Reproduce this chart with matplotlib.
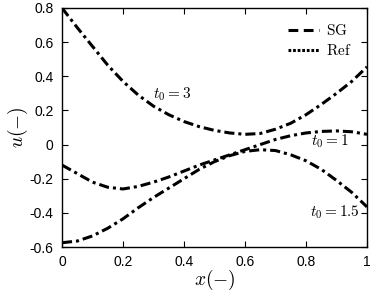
import matplotlib
matplotlib.use('Agg')
import matplotlib.pyplot as plt
from matplotlib.lines import Line2D

plt.rcParams['font.family'] = ['Liberation Sans', 'DejaVu Sans']
plt.rcParams['mathtext.fontset'] = 'cm'

x = [0, 0.05, 0.1, 0.15, 0.2, 0.25, 0.3, 0.35, 0.4, 0.45, 0.5,
     0.55, 0.6, 0.65, 0.7, 0.75, 0.8, 0.85, 0.9, 0.95, 1.0]

u_t3 = [0.80, 0.685, 0.575, 0.465, 0.37, 0.29, 0.225, 0.175, 0.135, 0.105, 0.083,
        0.068, 0.06, 0.065, 0.09, 0.125, 0.175, 0.235, 0.30, 0.37, 0.455]
u_t1 = [-0.12, -0.17, -0.22, -0.25, -0.26, -0.245, -0.22, -0.19, -0.155, -0.12, -0.09,
        -0.06, -0.03, 0.0, 0.03, 0.052, 0.068, 0.077, 0.08, 0.075, 0.06]
u_t15 = [-0.575, -0.565, -0.535, -0.49, -0.435, -0.37, -0.31, -0.255, -0.20, -0.145, -0.10,
         -0.065, -0.04, -0.03, -0.035, -0.06, -0.095, -0.145, -0.21, -0.28, -0.365]

curves = [u_t3, u_t1, u_t15]
labels = [r'$t_0=3$', r'$t_0=1$', r'$t_0=1.5$']

xticks = [0, 0.2, 0.4, 0.6, 0.8, 1]
xticklabels = ['0', '0.2', '0.4', '0.6', '0.8', '1']
yticks = [-0.6, -0.4, -0.2, 0, 0.2, 0.4, 0.6, 0.8]
yticklabels = ['-0.6', '-0.4', '-0.2', '0', '0.2', '0.4', '0.6', '0.8']

fig = plt.figure(figsize=(3.74, 2.96), dpi=100)
ax = fig.add_axes([0.1658, 0.1655, 0.8155, 0.8075])

lw = 2.2
for u in curves:
    # SG: dashes, Ref: dots falling into the dash gaps
    ax.plot(x, u, color='black', lw=lw, linestyle=(0, (3.3, 3.6)), dash_capstyle='butt')
    ax.plot(x, u, color='black', lw=lw, linestyle=(2.3, (1.0, 5.9)), dash_capstyle='butt')

ax.text(0.298, 0.296, labels[0], fontsize=11, ha='left', va='center')
ax.text(0.94, 0.02, labels[1], fontsize=11, ha='right', va='center')
ax.text(0.977, -0.395, labels[2], fontsize=11, ha='right', va='center')

ax.set_xlim(0, 1)
ax.set_ylim(-0.6, 0.8)
ax.set_xticks(xticks)
ax.set_xticklabels(xticklabels)
ax.set_yticks(yticks)
ax.set_yticklabels(yticklabels)
ax.tick_params(direction='in', length=4, width=0.8, top=True, right=True,
               labelsize=10, pad=6)
for s in ax.spines.values():
    s.set_linewidth(1.0)

ax.set_xlabel(r'$x(-)$', fontsize=14, labelpad=-1)
ax.set_ylabel(r'$u(-)$', fontsize=14, labelpad=0)

handles = [Line2D([], [], color='black', lw=lw, linestyle=(0, (3.2, 1.8))),
           Line2D([], [], color='black', lw=lw, linestyle=(0, (0.9, 0.6)))]
ax.legend(handles, [r'$\mathrm{SG}$', r'$\mathrm{Ref}$'], loc='upper right',
          frameon=False, fontsize=11, handlelength=2.0, handletextpad=0.5,
          borderaxespad=0.6, labelspacing=0.3)

fig.savefig('out.png', dpi=100)
